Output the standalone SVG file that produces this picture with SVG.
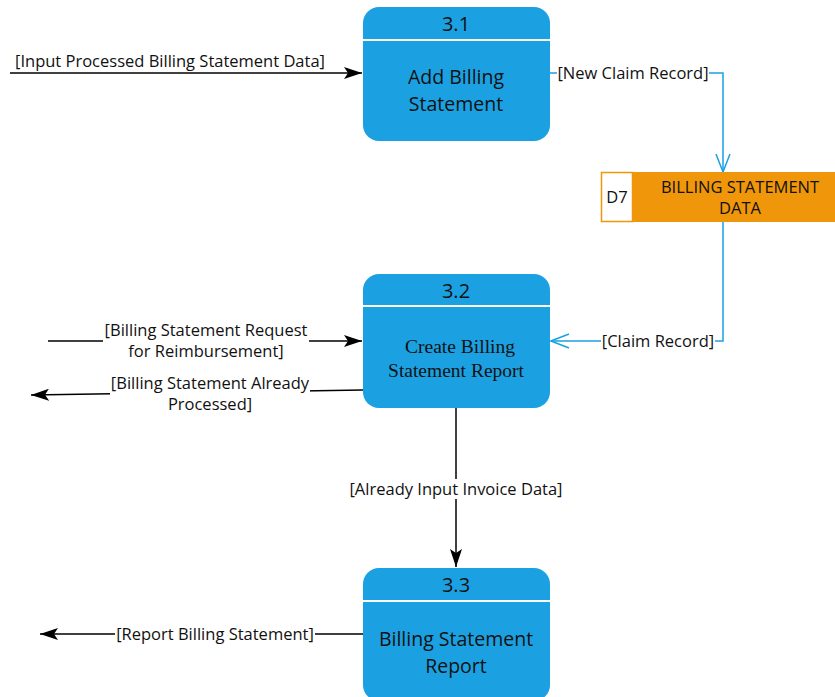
<svg xmlns="http://www.w3.org/2000/svg" width="835" height="697" viewBox="0 0 835 697">
  <defs>
    <marker id="solid" markerWidth="18" markerHeight="12" refX="18" refY="6" orient="auto" markerUnits="userSpaceOnUse">
      <path d="M0,0 L18,6 L0,12 L4,6 Z" fill="#000"/>
    </marker>
    <marker id="open" markerWidth="20" markerHeight="16" refX="19" refY="8" orient="auto" markerUnits="userSpaceOnUse">
      <path d="M1,1 L19,8 L1,15" fill="none" stroke="#1ba1e2" stroke-width="1.5"/>
    </marker>
  </defs>
  <style>
    .proc { fill: #1ba1e2; }
    .sep { stroke: #fff; stroke-width: 2; }
    .num { font-family: "Open Sans", "Noto Sans", sans-serif; font-size: 20px; fill: #111; text-anchor: middle; }
    .name { font-family: "Open Sans", "Noto Sans", sans-serif; font-size: 19.5px; fill: #111; text-anchor: middle; }
    .serif { font-family: "Liberation Serif", serif; font-size: 19.5px; fill: #111; text-anchor: middle; }
    .lbl { font-family: "Open Sans", "Noto Sans", sans-serif; font-size: 16.5px; fill: #111; }
    .flow { stroke: #000; stroke-width: 1.5; fill: none; }
    .blue { stroke: #1ba1e2; stroke-width: 1.5; fill: none; }
    .ds { font-family: "Open Sans", "Noto Sans", sans-serif; font-size: 16.5px; fill: #111; text-anchor: middle; }
  </style>

  <!-- connectors -->
  <g id="connectors">
    <line class="flow" x1="10" y1="73" x2="362" y2="73" marker-end="url(#solid)"/>
    <text class="lbl" x="15" y="67">[Input Processed Billing Statement Data]</text>

    <polyline class="blue" points="550,73 723,73 723,172" marker-end="url(#open)"/>
    <rect x="557" y="63" width="152" height="20" fill="#fff"/>
    <text class="lbl" x="633" y="79" text-anchor="middle">[New Claim Record]</text>

    <polyline class="blue" points="723,222 723,341 551,341" marker-end="url(#open)"/>
    <rect x="601" y="331" width="114" height="20" fill="#fff"/>
    <text class="lbl" x="658" y="347" text-anchor="middle">[Claim Record]</text>

    <line class="flow" x1="48" y1="341" x2="362" y2="341" marker-end="url(#solid)"/>
    <rect x="103" y="320" width="206" height="42" fill="#fff"/>
    <text class="lbl" text-anchor="middle"><tspan x="206" y="336">[Billing Statement Request</tspan><tspan x="206" y="357">for Reimbursement]</tspan></text>

    <line class="flow" x1="363" y1="390" x2="31" y2="395" marker-end="url(#solid)"/>
    <rect x="110" y="373" width="200" height="42" fill="#fff"/>
    <text class="lbl" text-anchor="middle"><tspan x="210" y="389">[Billing Statement Already</tspan><tspan x="210" y="410">Processed]</tspan></text>

    <line class="flow" x1="456" y1="408" x2="456" y2="567" marker-end="url(#solid)"/>
    <rect x="348" y="479" width="216" height="20" fill="#fff"/>
    <text class="lbl" x="456" y="495" text-anchor="middle">[Already Input Invoice Data]</text>

    <line class="flow" x1="363" y1="634" x2="40" y2="634" marker-end="url(#solid)"/>
    <rect x="115" y="624" width="200" height="20" fill="#fff"/>
    <text class="lbl" x="215" y="640" text-anchor="middle">[Report Billing Statement]</text>
  </g>

  <!-- process 3.1 -->
  <g id="p31">
    <rect class="proc" x="363" y="7" width="187" height="134" rx="16"/>
    <line class="sep" x1="363" y1="40" x2="550" y2="40"/>
    <text class="num" x="456" y="31">3.1</text>
    <text class="name" x="456" y="84">Add Billing</text>
    <text class="name" x="456" y="111">Statement</text>
  </g>

  <!-- data store D7 -->
  <g id="d7">
    <rect x="601.5" y="172.5" width="31" height="49" fill="#fff" stroke="#f0960a" stroke-width="1.5"/>
    <rect x="633" y="172" width="202" height="50" fill="#f0960a"/>
    <text class="ds" x="617" y="203">D7</text>
    <text class="ds"><tspan x="740" y="193">BILLING STATEMENT</tspan><tspan x="740" y="214">DATA</tspan></text>
  </g>

  <!-- process 3.2 -->
  <g id="p32">
    <rect class="proc" x="363" y="274" width="187" height="134" rx="16"/>
    <line class="sep" x1="363" y1="306" x2="550" y2="306"/>
    <text class="num" x="456" y="298">3.2</text>
    <text class="serif"><tspan x="460" y="353">Create Billing</tspan><tspan x="456" y="377">Statement Report</tspan></text>
  </g>

  <!-- process 3.3 -->
  <g id="p33">
    <rect class="proc" x="363" y="568" width="187" height="133" rx="16"/>
    <line class="sep" x1="363" y1="601" x2="550" y2="601"/>
    <text class="num" x="456" y="592">3.3</text>
    <text class="name" x="456" y="646">Billing Statement</text>
    <text class="name" x="456" y="673">Report</text>
  </g>
</svg>
